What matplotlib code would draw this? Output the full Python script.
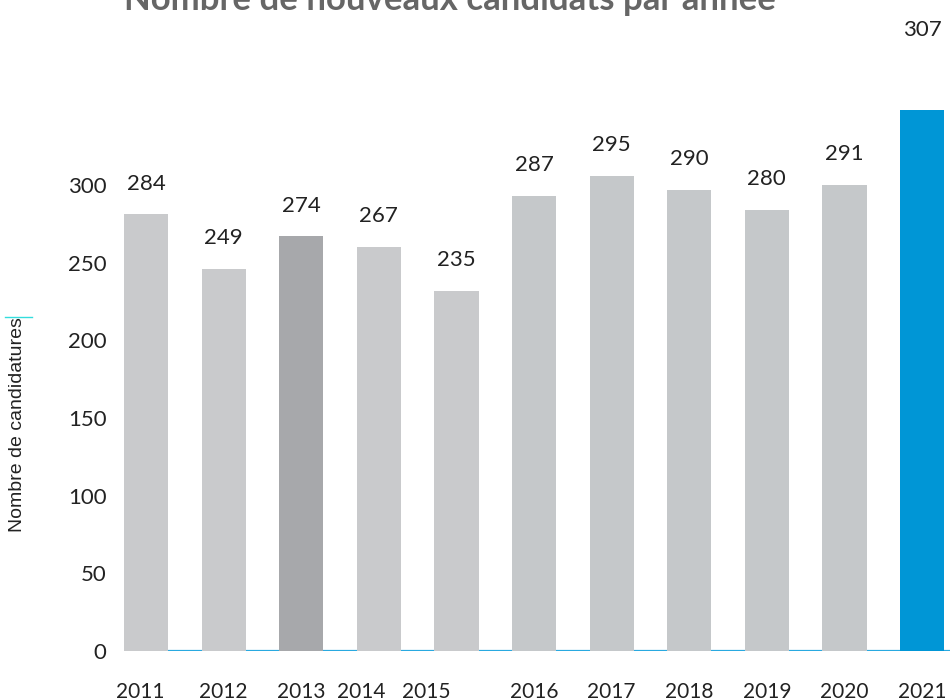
import matplotlib
matplotlib.use("Agg")
import matplotlib.pyplot as plt
from matplotlib.lines import Line2D
from matplotlib.transforms import ScaledTranslation
import numpy as np

# données
annees = ["2011", "2012", "2013", "2014", "2015", "2016",
          "2017", "2018", "2019", "2020", "2021"]
# texte des étiquettes
etiquettes = [284, 249, 274, 267, 235, 287, 295, 290, 280, 291, 307]
# hauteur des barres telle que dessinée (échelle de l'axe)
hauteurs = [281, 246, 267, 260, 232, 293, 306, 297, 284, 300, 348]
couleurs = ["#c9cacc", "#c9cacc", "#a7a8ab", "#c9cacc", "#c9cacc",
            "#c5c8ca", "#c5c8ca", "#c5c8ca", "#c5c8ca", "#c5c8ca", "#0096d6"]
yticks = [0, 50, 100, 150, 200, 250, 300]

police = "Lato"

fig = plt.figure(figsize=(9.5, 7), dpi=100)
# axe : de x=115 px au bord droit, de y=651 px (zéro) au haut
ax = fig.add_axes([115 / 950, 49 / 700, 835 / 950, 651 / 700])

x = np.arange(len(annees))
ax.bar(x, hauteurs, width=0.57, color=couleurs, zorder=2)

# ligne de base bleue
ax.plot([-0.285, 10.4], [0, 0], color="#29a9e0", lw=1.6, zorder=1,
        solid_capstyle="butt")

# étiquettes de valeur
for i, (h, t) in enumerate(zip(hauteurs, etiquettes)):
    dy = 58 if i == len(annees) - 1 else 22
    ax.annotate(str(t), (i, h), xytext=(0, dy), textcoords="offset points",
                ha="center", va="center", fontsize=16, color="#222222",
                family=police)

ax.set_xlim(-0.4, 10.36)
ax.set_ylim(0, 419)
ax.set_xticks(x)
ax.set_xticklabels(annees, family=police, fontsize=15, color="#222222")
ax.set_yticks(yticks)
ax.set_yticklabels([str(v) for v in yticks], family=police, fontsize=16,
                   color="#222222")
ax.tick_params(axis="x", length=0, pad=22)
ax.tick_params(axis="y", length=0, pad=6)
for s in ax.spines.values():
    s.set_visible(False)

# quelques années légèrement décalées à gauche comme dans l'original
decalage = {0: -6, 3: -18, 4: -30}
for i, lab in enumerate(ax.get_xticklabels()):
    if i in decalage:
        lab.set_transform(lab.get_transform() +
                          ScaledTranslation(decalage[i] / 100, 0,
                                            fig.dpi_scale_trans))

fig.text(0.474, 1 - 10 / 700, "Nombre de nouveaux candidats par année",
         ha="center", va="baseline", fontsize=25, fontweight="bold",
         color="#666666", family=police)

fig.text(18 / 950, 1 - 425 / 700, "Nombre de candidatures", rotation=90,
         ha="center", va="center", fontsize=14, color="#222222",
         family="Liberation Sans")
fig.add_artist(Line2D([5 / 950, 32 / 950], [1 - 317 / 700] * 2,
                      color="#33dddd", lw=1))

fig.savefig("out.png", dpi=100)
